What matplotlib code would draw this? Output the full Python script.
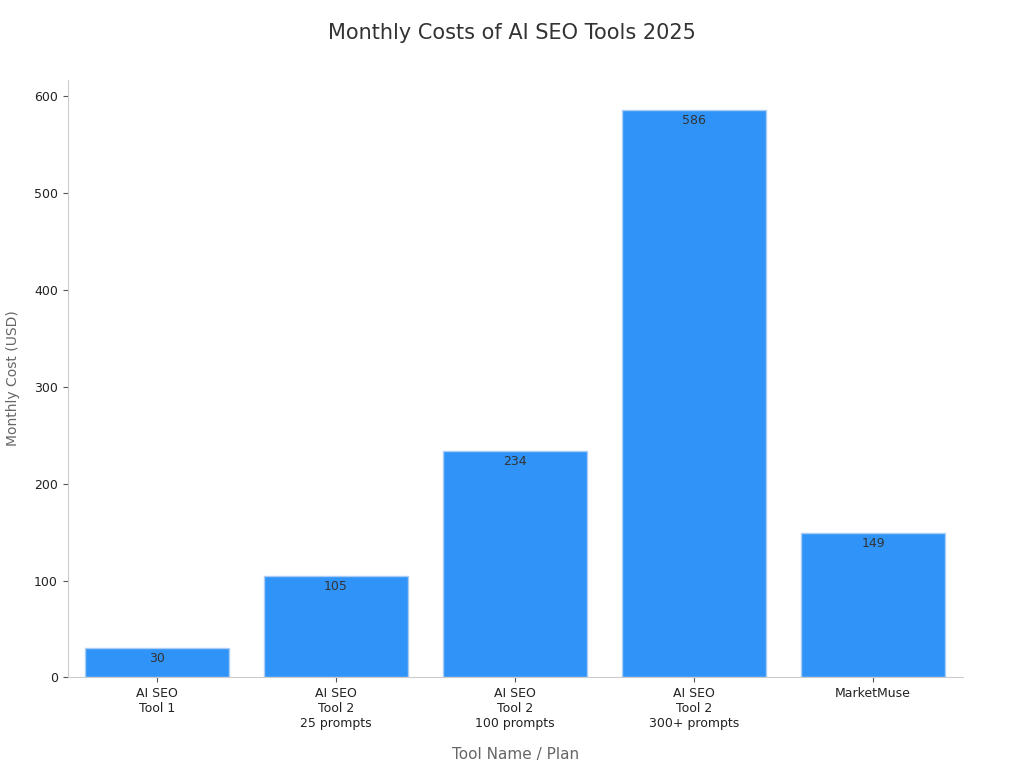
import matplotlib.pyplot as plt

tools = ["AI SEO\nTool 1", "AI SEO\nTool 2\n25 prompts", "AI SEO\nTool 2\n100 prompts",
         "AI SEO\nTool 2\n300+ prompts", "MarketMuse"]
costs = [30, 105, 234, 586, 149]

fig = plt.figure(figsize=(10.24, 7.68), dpi=100)
ax = fig.add_axes([0.066, 0.118, 0.874, 0.778])

x = range(len(tools))
bars = ax.bar(x, costs, width=0.8, color="#2f93f8", edgecolor="#a9cdf5", linewidth=1)
for b, v in zip(bars, costs):
    ax.text(b.get_x() + b.get_width() / 2, v - 4, str(v), ha="center", va="top",
            fontsize=9, color="#333333")

ax.set_xticks(list(x))
ax.set_xticklabels(tools, fontsize=9, color="#222222")
ax.tick_params(axis="y", labelsize=9, colors="#222222")
ax.tick_params(colors="#555555")
for t in ax.get_yticklabels() + ax.get_xticklabels():
    t.set_color("#222222")
ax.set_ylim(0, 617)
ax.set_xlim(-0.5, 4.5)
ax.set_yticks(range(0, 601, 100))

for s in ["top", "right"]:
    ax.spines[s].set_visible(False)
for s in ["left", "bottom"]:
    ax.spines[s].set_color("#cccccc")

ax.set_xlabel("Tool Name / Plan", fontsize=11, color="#666666", labelpad=12)
ax.set_ylabel("Monthly Cost (USD)", fontsize=10, color="#666666", labelpad=10)
fig.suptitle("Monthly Costs of AI SEO Tools 2025", fontsize=15, color="#333333", y=0.97)

plt.savefig("out.png")
